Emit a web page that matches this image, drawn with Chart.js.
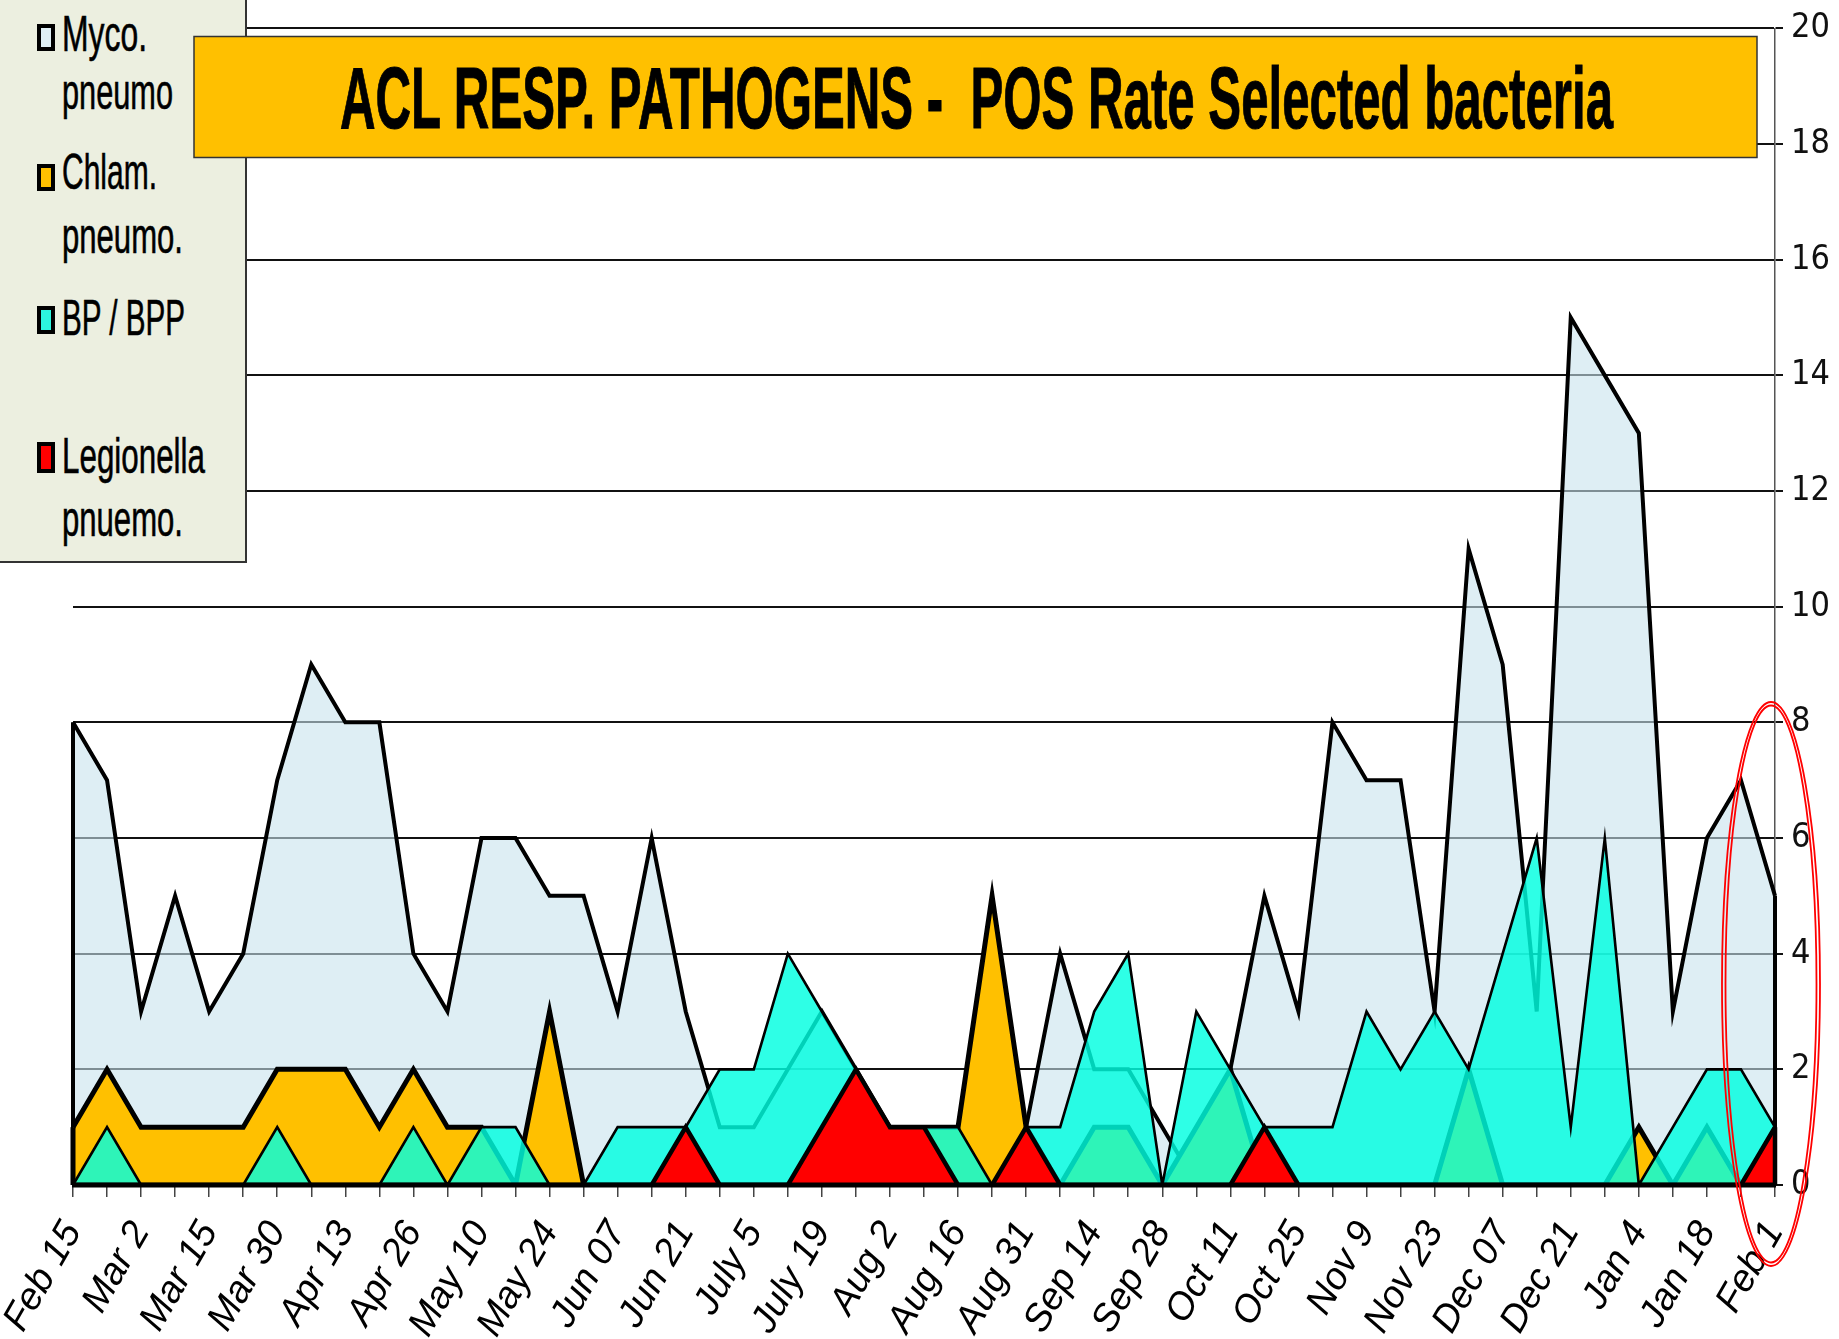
<!DOCTYPE html>
<html>
<head>
<meta charset="utf-8">
<script src="https://cdn.jsdelivr.net/npm/chart.js@4.4.1/dist/chart.umd.min.js"></script>
<style>
html,body{margin:0;padding:0;background:#fff;overflow:hidden;}
#wrap{position:relative;width:1839px;height:1339px;}
#c{position:absolute;left:0;top:0;}
#ov{position:absolute;left:0;top:0;pointer-events:none;}
</style>
</head>
<body>
<div id="wrap">
<canvas id="c" width="1839" height="1339"></canvas>
<svg id="ov" width="1839" height="1339" font-family="Liberation Sans, Arial, sans-serif">
  <rect x="0" y="0" width="246" height="562" fill="#ECEFE0"/>
  <path d="M246,0 V562 H0" stroke="#333" stroke-width="2" fill="none"/>
  <rect x="39" y="26" width="14" height="23" fill="#DFEFF5" stroke="#000" stroke-width="4"/>
  <rect x="39" y="166" width="14" height="23" fill="#FFC000" stroke="#000" stroke-width="4"/>
  <rect x="39" y="308" width="14" height="24" fill="#2CF6DF" stroke="#000" stroke-width="4"/>
  <rect x="39" y="444" width="14" height="27" fill="#FF0000" stroke="#000" stroke-width="4"/>
  <g font-size="50" fill="#000" stroke="#000" stroke-width="0.6">
    <text x="62" y="51" textLength="85" lengthAdjust="spacingAndGlyphs">Myco.</text>
    <text x="62" y="109" textLength="111" lengthAdjust="spacingAndGlyphs">pneumo</text>
    <text x="62" y="189" textLength="95" lengthAdjust="spacingAndGlyphs">Chlam.</text>
    <text x="62" y="253" textLength="121" lengthAdjust="spacingAndGlyphs">pneumo.</text>
    <text x="62" y="335" textLength="123" lengthAdjust="spacingAndGlyphs">BP / BPP</text>
    <text x="62" y="473" textLength="143" lengthAdjust="spacingAndGlyphs">Legionella</text>
    <text x="62" y="536" textLength="121" lengthAdjust="spacingAndGlyphs">pnuemo.</text>
  </g>
  <rect x="194" y="36.5" width="1563" height="121" fill="#FFC000" stroke="#333" stroke-width="1.5"/>
  <text x="340" y="128" font-size="87" font-weight="bold" fill="#000" stroke="#000" stroke-width="1" textLength="1273" lengthAdjust="spacingAndGlyphs" style="white-space:pre">ACL RESP. PATHOGENS -  POS Rate Selected bacteria</text>
  <ellipse cx="1771" cy="984" rx="49" ry="282" fill="none" stroke="#FF0000" stroke-width="1.8"/>
  <ellipse cx="1771" cy="984" rx="45.5" ry="278.5" fill="none" stroke="#FF0000" stroke-width="1.8"/>
</svg>
</div>
<script>
// ---- data ----
const tickLabels = ['Feb 15','Mar 2','Mar 15','Mar 30','Apr 13','Apr 26','May 10','May 24','Jun 07','Jun 21',
  'July 5','July 19','Aug 2','Aug 16','Aug 31','Sep 14','Sep 28','Oct 11','Oct 25','Nov 9',
  'Nov 23','Dec 07','Dec 21','Jan 4','Jan 18','Feb 1'];
const weekCount = 51;
const seriesNames = ['Myco. pneumo', 'Chlam. pneumo.', 'BP / BPP', 'Legionella pnuemo.'];
const mycoValues = [8,7,3,5,3,4,7,9,8,8, 4,3,6,6,5,5,3,6,3,1, 1,2,3,2,1,1,1,1,1,4, 2,2,1,0,2,5,3,8,7,7, 3,11,9,3,15,14,13,3,6,7,5];
const chlamValues = [1,2,1,1,1,1,2,2,2,1, 2,1,1,0,3,0,0,0,0,0, 0,0,0,0,1,1,1,5,1,0, 1,1,0,1,2,0,0,0,0,0, 0,2,0,0,0,0,1,0,1,0,0];
const bpValues = [0,1,0,0,0,0,1,0,0,0, 1,0,1,1,0,0,1,1,1,2, 2,4,3,2,1,1,1,0,1,1, 3,4,0,3,2,1,1,1,3,2, 3,2,4,6,1,6,0,1,2,2,1];
const legValues = [0,0,0,0,0,0,0,0,0,0, 0,0,0,0,0,0,0,0,1,0, 0,0,1,2,1,1,0,0,1,0, 0,0,0,0,0,1,0,0,0,0, 0,0,0,0,0,0,0,0,0,0,1];
const yTicks = {min: 0, max: 20, step: 2};

// category labels: every other week is labelled
const categories = [];
for (let i = 0; i < weekCount; i++) categories.push(i % 2 === 0 ? tickLabels[i / 2] : '');

function hasFont(name) {
  const c = document.createElement('canvas').getContext('2d');
  const s = 'abcdefghijklmnop0123456789';
  c.font = '40px monospace'; const w1 = c.measureText(s).width;
  c.font = '40px "' + name + '", monospace'; const w2 = c.measureText(s).width;
  return Math.abs(w1 - w2) > 0.5;
}
let narrow = '"Liberation Sans", Arial, sans-serif', narrowSize = 34;
if (hasFont('Liberation Sans Narrow')) { narrow = '"Liberation Sans Narrow", "Liberation Sans", sans-serif'; narrowSize = 37; }
else if (hasFont('DejaVu Sans Condensed')) { narrow = '"DejaVu Sans Condensed", "Liberation Sans", sans-serif'; narrowSize = 34; }

const edgePlugin = {
  id: 'edges',
  afterDatasetDraw(chart, args) {
    const ds = chart.data.datasets[args.index];
    const pts = args.meta.data;
    const y0 = chart.scales.y.getPixelForValue(0);
    const ctx = chart.ctx;
    ctx.save();
    ctx.strokeStyle = ds.borderColor;
    ctx.lineWidth = ds.borderWidth;
    [pts[0], pts[pts.length - 1]].forEach(p => {
      if (Math.abs(p.y - y0) > 0.5) {
        ctx.beginPath(); ctx.moveTo(p.x, p.y); ctx.lineTo(p.x, y0); ctx.stroke();
      }
    });
    ctx.restore();
  },
  afterDatasetsDraw(chart) {
    const ctx = chart.ctx;
    const {left, right} = chart.chartArea;
    const y0 = chart.scales.y.getPixelForValue(0);
    ctx.save();
    ctx.strokeStyle = '#000';
    ctx.lineWidth = 5;
    ctx.beginPath(); ctx.moveTo(left - 1, y0); ctx.lineTo(right + 1, y0); ctx.stroke();
    ctx.restore();
  }
};

new Chart(document.getElementById('c'), {
  type: 'line',
  data: {
    labels: categories,
    datasets: [
      {label: seriesNames[0], data: mycoValues, order: 4, fill: 'origin',
       backgroundColor: 'rgba(200,226,236,0.6)', borderColor: '#000', borderWidth: 4},
      {label: seriesNames[1], data: chlamValues, order: 3, fill: 'origin',
       backgroundColor: '#FFC000', borderColor: '#000', borderWidth: 5},
      {label: seriesNames[2], data: bpValues, order: 2, fill: 'origin',
       backgroundColor: 'rgba(0,255,225,0.82)', borderColor: '#000', borderWidth: 2.6},
      {label: seriesNames[3], data: legValues, order: 1, fill: 'origin',
       backgroundColor: '#FF0000', borderColor: '#000', borderWidth: 4.5}
    ]
  },
  options: {
    responsive: false,
    animation: false,
    events: [],
    layout: {padding: {left: 73, top: 27, right: 0, bottom: 0}},
    elements: {point: {radius: 0}, line: {tension: 0, borderJoinStyle: 'miter'}},
    plugins: {legend: {display: false}, title: {display: false}, tooltip: {enabled: false}},
    scales: {
      x: {
        ticks: {autoSkip: false, maxRotation: 60, minRotation: 60, padding: 17, color: '#000',
                font: {family: '"Liberation Sans", Arial, sans-serif', size: 38, style: 'italic'}},
        grid: {drawOnChartArea: false, drawTicks: true, tickLength: 12, color: '#444', lineWidth: 1.5},
        border: {display: false},
        afterFit(s) { s.height = 154; s.paddingLeft = 0; s.paddingRight = 0; }
      },
      y: {
        position: 'right', min: yTicks.min, max: yTicks.max,
        ticks: {stepSize: yTicks.step, padding: 8, color: '#111', font: {family: narrow, size: narrowSize}},
        grid: {color: '#111', lineWidth: 2, tickLength: 8},
        border: {display: true, color: '#555', width: 1.5},
        afterFit(s) { s.width = 64; }
      }
    }
  },
  plugins: [edgePlugin]
});
</script>
</body>
</html>
